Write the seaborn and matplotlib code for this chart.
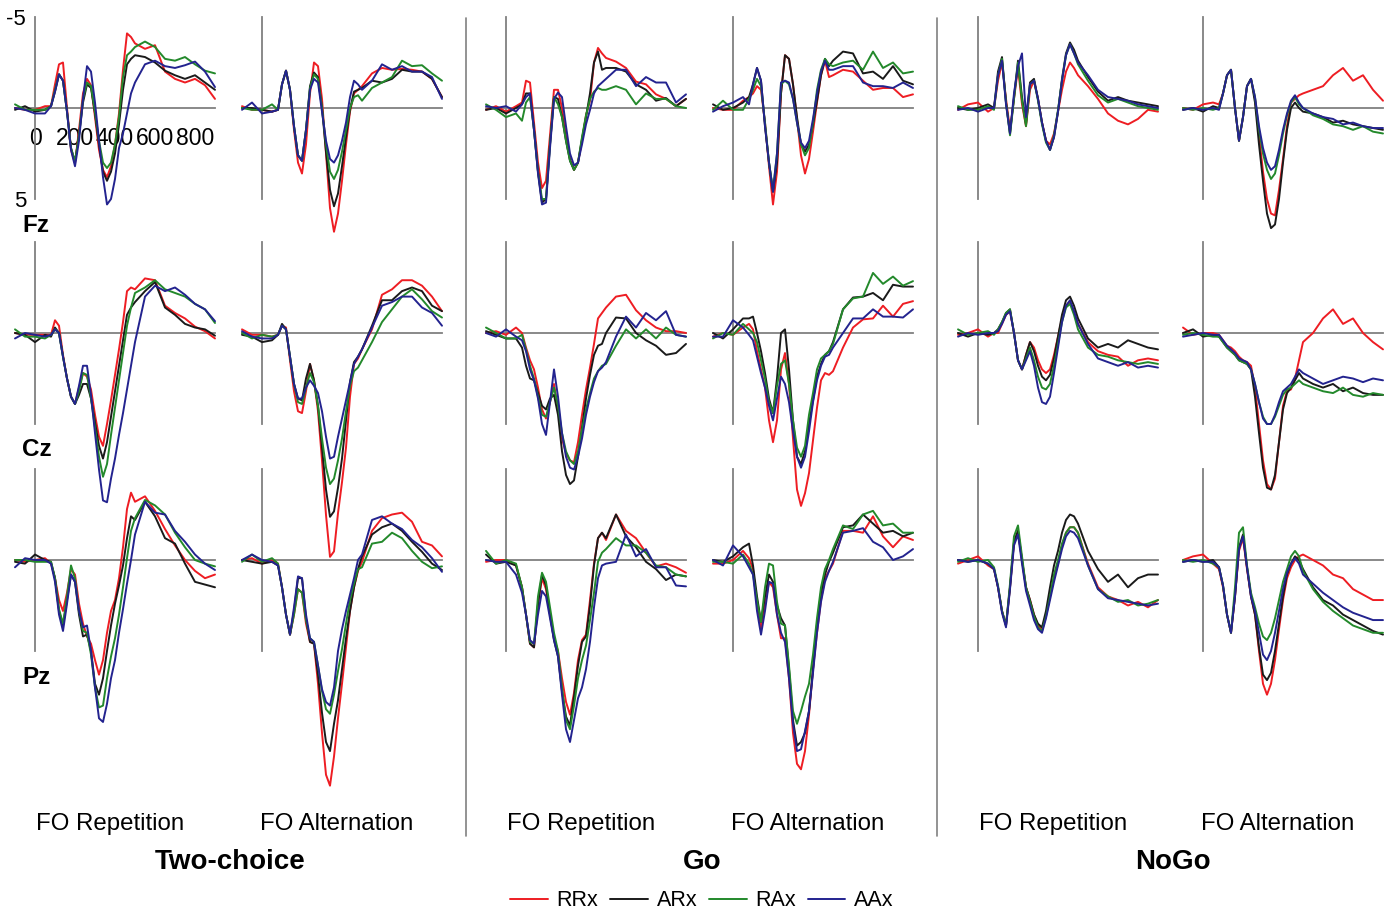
import matplotlib
matplotlib.use("Agg")
import matplotlib.pyplot as plt
from matplotlib.lines import Line2D
import numpy as np
import pandas as pd
import seaborn as sns

# ---------------- data (µV, negative plotted upward) ----------------
TIME = [-100, -50, 0, 50, 80, 100, 120, 140, 160, 180, 200, 220, 240, 260, 280, 300,
        320, 340, 360, 380, 400, 420, 440, 460, 480, 500, 550, 600, 650, 700, 750, 800, 850, 900]
CONDITIONS = ["RRx", "ARx", "RAx", "AAx"]
SITES = ["Fz", "Cz", "Pz"]
TASKS = ["Two-choice", "Go", "NoGo"]
SEQUENCES = ["FO Repetition", "FO Alternation"]

FZ_TWO_REP = {
    "RRx": [0.0,0.1,0.1,-0.1,-0.1,-1.3,-2.4,-2.5,0.0,2.3,3.05,1.2,-0.8,-1.6,-1.25,0.5,2.3,3.4,3.8,3.2,2.0,0.3,-2.1,-4.1,-3.9,-3.55,-3.25,-3.45,-2.0,-1.6,-1.4,-1.6,-1.25,-0.5],
    "ARx": [0.1,-0.1,0.2,0.1,-0.1,-0.9,-1.85,-1.5,0.2,2.2,2.95,1.5,-0.3,-1.3,-1.1,0.3,2.0,3.5,4.0,3.5,2.5,0.9,-1.0,-2.4,-2.7,-2.9,-2.8,-2.5,-2.05,-1.8,-1.6,-1.8,-1.4,-1.0],
    "RAx": [-0.2,0.1,0.1,0.1,-0.1,-1.0,-1.85,-1.5,0.2,2.2,2.95,1.5,-0.5,-1.4,-1.2,0.2,1.8,3.0,3.3,3.0,2.0,0.5,-1.7,-2.9,-3.1,-3.35,-3.65,-3.35,-2.7,-2.6,-2.8,-2.4,-2.05,-1.9],
    "AAx": [0.0,0.1,0.3,0.3,-0.1,-0.9,-1.85,-1.5,0.2,2.3,3.2,1.8,-0.5,-2.3,-2.0,-0.3,1.8,3.8,5.3,5.0,3.9,2.2,1.4,0.3,-0.8,-1.4,-2.4,-2.6,-2.3,-2.2,-2.35,-2.55,-2.0,-1.15],
}
FZ_TWO_ALT = {
    "RRx": [-0.1,0.1,0.1,0.2,0.1,-1.3,-2.05,-1.0,1.2,3.0,3.6,2.0,-0.8,-2.5,-2.3,-0.5,2.5,5.5,6.8,5.8,4.0,2.0,0.2,-0.8,-1.0,-1.2,-1.9,-2.2,-2.1,-2.15,-2.1,-2.0,-1.6,-0.6],
    "ARx": [0.0,0.0,0.1,0.2,0.1,-1.3,-2.05,-1.0,1.0,2.6,2.9,1.2,-1.2,-1.95,-1.7,0.0,2.4,4.5,5.4,4.7,3.2,1.6,0.1,-0.9,-1.0,-1.1,-1.5,-1.4,-1.6,-2.1,-2.0,-2.0,-1.6,-0.6],
    "RAx": [0.0,0.1,0.1,-0.2,0.1,-1.3,-2.05,-1.0,1.0,2.6,2.9,1.2,-1.1,-1.85,-1.6,0.0,2.0,3.5,3.9,3.4,2.4,1.2,0.0,-0.6,-0.7,-0.4,-1.1,-1.4,-1.7,-2.6,-2.3,-2.35,-1.9,-1.5],
    "AAx": [0.1,-0.3,0.3,0.2,0.1,-1.3,-2.05,-1.0,1.0,2.6,2.9,1.2,-1.0,-1.6,-1.4,0.2,1.8,2.8,3.0,2.6,1.8,0.8,-0.6,-1.5,-1.3,-1.0,-1.5,-2.4,-2.1,-2.3,-2.0,-2.0,-1.7,-0.5],
}
CZ_TWO_REP = {
    "RRx": [0.0,0.1,0.1,0.1,0.1,-0.7,-0.4,1.2,2.5,3.5,3.9,3.0,2.2,2.4,3.1,4.5,5.7,6.2,5.0,3.7,2.3,0.9,-0.6,-2.3,-2.5,-2.4,-3.0,-2.9,-1.5,-1.1,-0.8,-0.35,-0.1,0.3],
    "ARx": [0.0,0.1,0.5,0.1,0.2,-0.3,0.0,1.3,2.5,3.5,3.9,3.4,2.8,2.8,3.6,4.9,6.2,6.9,6.0,4.6,3.2,1.8,0.4,-1.0,-1.4,-1.7,-2.3,-2.8,-1.4,-1.0,-0.5,-0.3,-0.2,0.15],
    "RAx": [-0.2,0.2,0.2,0.3,0.1,-0.2,0.0,1.3,2.5,3.5,3.9,3.2,2.2,2.3,3.6,5.2,6.8,7.9,7.2,5.6,4.1,2.6,1.1,-0.4,-1.4,-2.2,-2.5,-2.9,-2.4,-2.2,-2.0,-1.6,-1.3,-0.55],
    "AAx": [0.3,0.0,0.1,0.2,0.1,-0.2,0.0,1.3,2.5,3.5,3.9,2.9,1.8,1.8,3.4,5.5,7.5,9.2,9.3,8.0,6.9,5.6,4.4,3.1,1.8,0.5,-2.0,-2.6,-2.3,-2.5,-2.1,-1.6,-1.3,-0.65],
}
CZ_TWO_ALT = {
    "RRx": [-0.2,0.1,0.1,0.2,0.1,-0.4,-0.3,1.5,3.2,4.3,4.4,3.2,1.7,2.6,4.3,7.0,10.0,12.3,12.0,9.9,8.2,6.3,3.5,1.7,1.4,0.9,-0.2,-2.1,-2.4,-2.9,-2.9,-2.6,-2.0,-1.2],
    "ARx": [0.1,0.2,0.5,0.4,0.1,-0.5,-0.2,1.3,2.8,3.6,3.7,2.5,1.7,2.6,4.0,6.3,8.6,10.1,9.8,8.5,6.9,4.8,2.7,1.6,1.3,0.9,-0.4,-1.8,-1.8,-2.3,-2.5,-2.3,-1.5,-1.2],
    "RAx": [0.0,0.3,0.1,0.2,0.1,-0.4,-0.2,1.3,2.8,3.8,3.9,3.0,2.2,2.7,4.0,5.8,7.4,8.3,8.0,7.0,5.8,4.3,2.9,2.1,1.9,1.5,0.5,-0.6,-1.3,-2.0,-2.4,-1.85,-1.2,-0.85],
    "AAx": [-0.1,0.2,0.3,0.3,0.1,-0.4,-0.2,1.3,2.8,3.6,3.6,3.0,2.6,2.9,3.3,4.3,5.7,6.9,6.8,5.7,4.7,3.7,2.7,1.7,1.3,0.9,-0.3,-1.5,-1.7,-2.0,-2.0,-1.4,-1.1,-0.4],
}
PZ_TWO_REP = {
    "RRx": [0.0,0.1,0.0,-0.1,0.2,1.0,2.2,2.8,1.8,0.5,0.8,2.4,3.5,4.2,4.6,5.5,6.3,5.5,4.0,2.8,2.2,1.0,-0.7,-2.8,-3.7,-3.2,-3.5,-2.7,-1.7,-0.8,0.0,0.6,1.0,0.8],
    "ARx": [0.1,0.2,-0.3,0.0,0.1,1.0,2.8,3.6,2.2,0.8,1.2,3.0,4.2,4.1,5.0,6.8,7.4,6.5,5.0,3.6,2.4,1.4,0.3,-1.2,-2.4,-2.2,-3.2,-2.4,-1.2,-0.9,0.2,1.2,1.35,1.5],
    "RAx": [0.0,0.0,0.1,0.1,0.1,1.0,2.7,3.5,2.0,0.3,1.0,2.8,3.9,4.0,5.2,7.0,8.1,8.0,6.5,5.3,4.3,3.0,1.5,-0.1,-1.6,-2.3,-3.3,-3.0,-2.5,-1.5,-0.7,0.0,0.2,0.35],
    "AAx": [0.4,-0.1,0.0,0.0,0.2,1.2,3.0,3.9,2.4,0.8,1.2,2.8,3.7,3.6,5.0,7.0,8.7,8.9,7.9,6.5,5.5,4.0,2.7,1.3,0.0,-1.4,-3.2,-2.6,-2.5,-1.6,-1.0,-0.3,0.2,0.55],
}
PZ_TWO_ALT = {
    "RRx": [0.0,-0.1,0.2,0.0,0.2,1.5,3.0,4.1,3.0,1.6,1.8,3.5,4.5,4.6,6.8,9.5,11.8,12.4,10.8,8.7,6.8,4.8,2.8,1.5,0.6,0.1,-1.6,-2.3,-2.5,-2.6,-2.1,-1.0,-0.8,-0.2],
    "ARx": [0.0,0.1,0.2,0.1,0.3,1.5,3.0,4.1,2.8,1.0,1.0,3.2,4.5,4.6,6.3,8.4,10.0,10.5,9.0,7.7,6.0,4.3,2.8,1.5,0.5,-0.2,-1.4,-1.8,-2.0,-1.6,-1.0,-0.45,0.2,0.55],
    "RAx": [0.1,-0.3,0.1,-0.1,0.2,1.5,3.0,4.1,3.0,1.6,1.8,3.3,4.3,4.5,5.8,7.2,8.2,8.45,7.4,6.1,4.9,3.5,2.2,1.3,0.5,0.4,-0.9,-1.0,-1.5,-1.2,-0.5,0.1,0.45,0.35],
    "AAx": [0.0,-0.3,0.0,0.1,0.3,1.5,3.0,4.1,2.6,0.9,1.0,3.0,4.3,4.5,5.8,7.1,7.8,8.0,7.0,5.0,3.8,2.8,1.9,1.0,0.0,-0.3,-2.2,-2.4,-2.0,-1.7,-1.1,-0.7,-0.1,0.65],
}
FZ_GO_REP = {
    "RRx": [0.1,-0.1,0.2,-0.1,-0.3,-1.5,-1.4,0.8,3.0,4.4,4.0,1.5,-1.0,-1.0,0.0,1.5,2.8,3.4,3.0,1.8,0.4,-0.4,-2.5,-3.3,-3.0,-2.75,-2.55,-2.2,-1.45,-1.3,-0.75,-0.5,-0.1,-0.5],
    "ARx": [0.1,0.0,0.3,0.0,-0.2,-0.8,-0.8,1.2,3.5,5.2,5.0,2.0,-0.6,-0.5,0.5,1.8,2.9,3.4,3.0,1.7,0.5,-0.8,-2.5,-3.1,-2.1,-2.2,-2.2,-2.0,-1.3,-1.0,-0.4,-0.55,-0.1,-0.5],
    "RAx": [-0.2,0.1,0.5,0.3,0.7,-0.3,-0.6,1.2,3.5,5.0,5.0,2.0,-0.6,-0.2,0.5,1.8,2.9,3.4,3.0,1.6,0.4,-0.5,-0.9,-1.1,-1.0,-1.0,-1.2,-1.0,-0.2,-0.8,-0.5,-0.5,-0.1,0.0],
    "AAx": [-0.1,0.0,-0.1,0.2,-0.2,-0.6,-0.8,1.2,3.6,5.3,5.2,2.2,-0.5,-0.85,-0.6,1.0,2.5,3.15,3.0,2.0,0.9,0.1,-0.8,-1.2,-1.4,-1.6,-2.1,-2.1,-1.2,-1.7,-1.4,-1.4,-0.3,-0.75],
}
FZ_GO_ALT = {
    "RRx": [0.0,0.1,0.1,-0.4,-0.6,-0.8,-1.2,-1.0,0.8,3.2,5.3,3.5,-0.8,-2.9,-2.7,-1.3,0.6,2.6,3.6,2.8,1.3,-0.3,-1.8,-2.6,-1.7,-1.8,-2.1,-2.0,-1.5,-1.0,-1.1,-1.1,-0.6,-0.75],
    "ARx": [-0.2,0.1,0.0,-0.3,-0.6,-1.3,-2.2,-1.5,1.0,3.0,4.6,3.0,-0.8,-2.9,-2.7,-1.3,0.5,2.0,2.4,2.0,0.9,-0.4,-1.8,-2.7,-2.3,-2.6,-3.1,-3.0,-1.9,-2.0,-1.6,-2.3,-1.5,-1.3],
    "RAx": [0.1,-0.4,0.1,0.1,-0.5,-1.0,-1.6,-1.2,0.8,3.0,4.5,2.5,-1.3,-1.5,-1.3,-0.5,0.8,2.0,2.6,2.2,0.8,-1.0,-2.1,-2.7,-2.4,-2.3,-2.5,-2.6,-2.1,-3.1,-2.2,-2.5,-1.9,-2.0],
    "AAx": [0.2,-0.1,-0.3,-0.6,-0.2,-1.3,-2.2,-1.5,1.0,3.0,4.6,2.5,-1.4,-1.5,-1.4,-0.5,0.8,1.9,2.2,1.8,0.6,-0.8,-2.0,-2.6,-2.1,-2.1,-2.3,-2.3,-1.4,-1.2,-1.2,-1.1,-1.4,-1.1],
}
CZ_GO_REP = {
    "RRx": [0.0,-0.1,0.1,-0.3,0.0,0.8,1.5,2.0,3.0,4.2,4.7,3.8,2.8,4.2,5.8,6.6,7.0,7.1,6.0,4.5,3.1,1.9,0.6,-0.8,-1.1,-1.4,-2.0,-2.1,-1.25,-0.7,-0.3,-0.1,-0.1,0.0],
    "ARx": [-0.1,0.1,0.3,0.3,0.8,1.8,2.5,2.6,3.3,4.0,4.2,3.6,3.4,4.5,6.5,7.8,8.3,8.1,6.8,5.2,3.6,2.3,1.2,0.7,0.6,0.0,-0.85,-0.8,0.0,0.4,0.7,1.2,1.1,0.6],
    "RAx": [-0.3,0.0,0.3,0.3,0.1,0.9,1.8,2.5,3.5,4.5,4.6,3.8,3.0,4.0,5.5,6.5,7.0,7.2,6.5,5.3,4.2,3.3,2.5,2.1,1.8,1.7,0.7,-0.2,0.3,-0.2,0.3,-0.3,0.1,0.2],
    "AAx": [0.0,0.2,-0.2,0.2,0.4,1.0,2.0,2.6,3.6,5.0,5.6,3.8,2.0,3.5,5.5,6.8,7.4,7.5,6.8,5.8,4.5,3.5,2.7,2.1,1.9,1.6,0.2,-0.9,-0.3,-1.1,-0.7,-1.2,0.1,0.2],
}
CZ_GO_ALT = {
    "RRx": [0.2,0.0,0.1,-0.3,-0.5,-0.2,1.0,2.0,3.0,4.8,6.0,4.8,2.0,1.1,2.8,5.8,8.6,9.5,8.8,7.7,5.9,4.1,2.6,2.2,2.3,2.1,0.8,-0.3,-0.75,-0.8,-1.5,-0.9,-1.6,-1.75],
    "ARx": [0.0,0.3,-0.2,-0.8,-0.8,-0.9,0.0,1.0,2.2,3.6,4.4,2.5,0.0,-0.2,2.0,4.8,6.8,7.2,6.5,5.0,3.7,2.4,1.7,1.2,1.0,0.5,-1.3,-1.95,-2.0,-2.2,-1.8,-2.65,-2.55,-2.55],
    "RAx": [0.3,0.0,0.1,-0.5,-0.2,0.0,0.5,1.5,2.5,3.8,4.4,2.9,1.7,1.5,2.8,4.8,6.3,6.8,6.2,4.5,3.3,2.0,1.4,1.2,1.0,0.6,-1.3,-1.9,-2.0,-3.3,-2.7,-3.1,-2.6,-2.85],
    "AAx": [0.2,0.2,-0.7,-0.3,0.1,0.4,1.3,2.2,3.0,4.0,4.8,3.6,2.4,2.8,3.8,5.4,6.8,7.4,6.8,5.4,3.8,2.6,1.8,1.3,1.2,0.8,0.0,-0.8,-0.8,-1.3,-0.9,-0.9,-0.85,-1.3],
}
PZ_GO_REP = {
    "RRx": [0.1,0.0,0.0,0.3,1.5,3.0,4.6,4.8,2.5,1.0,1.6,3.0,4.3,5.0,6.5,7.8,8.5,7.3,5.5,4.4,4.1,2.2,0.2,-1.2,-1.5,-1.1,-2.5,-1.6,-1.2,-0.4,0.35,0.2,0.4,0.7],
    "ARx": [-0.3,0.2,0.1,0.3,1.5,3.0,4.6,4.8,2.4,0.8,1.4,3.0,4.4,5.3,7.2,8.6,9.1,7.5,5.8,4.5,4.2,2.5,0.3,-1.2,-1.5,-1.2,-2.5,-1.3,-0.7,0.1,0.5,1.1,0.8,0.9],
    "RAx": [-0.5,0.2,0.0,0.2,1.5,3.0,4.5,4.6,2.0,0.7,1.2,2.6,4.0,5.0,7.0,8.8,9.3,8.0,6.5,5.5,4.7,3.3,1.8,0.1,-0.4,-0.6,-1.2,-0.8,-0.8,-0.4,0.3,0.4,0.8,0.9],
    "AAx": [0.0,0.1,0.1,0.8,1.8,3.0,4.4,4.6,3.0,1.7,2.0,3.2,4.4,5.3,7.4,9.3,10.0,8.8,7.6,7.0,6.0,4.5,2.6,1.0,0.3,0.2,0.1,-1.4,-0.2,-0.6,0.4,0.4,1.4,1.45],
}
PZ_GO_ALT = {
    "RRx": [0.2,0.2,0.0,-0.5,-0.1,0.5,2.5,3.8,2.5,1.2,1.5,3.0,4.3,4.3,6.5,9.5,11.2,11.5,10.5,8.5,6.0,4.0,2.2,1.0,0.6,0.2,-1.6,-1.6,-1.5,-2.4,-1.3,-0.7,-1.3,-1.1],
    "ARx": [0.0,0.1,-0.2,-0.7,-0.9,0.3,2.0,3.4,2.0,0.8,1.2,2.5,3.2,3.6,6.0,8.8,10.2,10.0,9.5,8.3,6.0,3.5,1.8,0.8,0.1,-0.4,-1.8,-1.9,-2.5,-2.0,-1.5,-1.6,-1.3,-1.5],
    "RAx": [0.1,0.1,0.2,-0.3,0.2,0.8,2.2,3.4,1.5,0.2,0.3,2.3,3.5,3.6,5.8,8.3,9.0,8.3,7.5,6.8,5.2,3.2,1.5,0.5,0.0,-0.6,-1.9,-1.7,-2.5,-2.7,-1.9,-2.0,-1.5,-1.5],
    "AAx": [0.0,0.3,-0.8,-0.2,0.4,0.8,2.8,4.1,2.8,1.2,1.3,3.0,4.0,4.5,6.5,9.0,10.5,10.4,9.4,8.3,6.2,4.0,2.3,1.2,0.6,0.1,-1.5,-1.6,-1.75,-1.0,-0.7,0.0,-0.2,-0.6],
}
FZ_NOGO_REP = {
    "RRx": [0.1,-0.2,-0.3,0.2,0.0,-1.5,-2.5,-0.5,1.2,-0.5,-2.2,-0.2,1.0,-1.0,-1.5,-0.5,0.8,1.8,2.0,1.4,0.2,-1.0,-2.0,-2.5,-2.2,-1.8,-1.2,-0.5,0.3,0.7,0.9,0.6,0.1,0.2],
    "ARx": [0.0,0.1,0.0,-0.2,0.0,-2.0,-2.8,-0.3,1.4,-0.6,-2.6,-0.6,0.9,-1.4,-1.6,-0.5,0.8,1.8,2.3,1.6,0.2,-1.6,-3.0,-3.6,-3.2,-2.6,-1.7,-0.9,-0.4,-0.6,-0.4,-0.3,-0.2,-0.1],
    "RAx": [-0.1,0.1,0.1,-0.1,0.1,-1.8,-2.7,-0.3,1.5,-0.5,-2.5,-0.4,1.0,-1.3,-1.5,-0.4,0.9,1.9,2.3,1.5,0.1,-1.5,-2.9,-3.5,-3.0,-2.4,-1.5,-0.7,-0.3,-0.5,-0.3,-0.1,0.0,0.1],
    "AAx": [0.1,0.0,0.2,0.0,0.0,-1.8,-2.6,-0.2,1.4,-0.8,-2.3,-3.0,0.5,-1.3,-1.5,-0.5,0.8,1.8,2.3,1.6,0.2,-1.5,-2.9,-3.5,-3.0,-2.5,-1.8,-1.0,-0.6,-0.5,-0.4,-0.2,-0.1,0.0],
}
FZ_NOGO_ALT = {
    "RRx": [0.0,0.1,-0.2,-0.3,-0.2,-0.8,-1.8,-2.1,0.0,1.8,0.5,-1.2,-1.6,-0.5,1.5,3.5,5.0,5.8,5.9,4.5,2.8,1.0,-0.3,-0.5,-0.7,-0.8,-1.0,-1.2,-1.8,-2.2,-1.5,-1.8,-1.0,-0.4],
    "ARx": [0.1,0.0,0.2,-0.1,0.0,-0.8,-1.8,-2.1,0.0,1.8,0.5,-1.2,-1.6,-0.3,2.0,4.0,5.8,6.6,6.4,5.0,3.0,1.2,0.0,-0.3,0.0,0.2,0.3,0.5,0.8,0.7,0.9,1.0,1.1,1.2],
    "RAx": [0.0,0.1,0.0,0.1,0.0,-0.8,-1.8,-2.1,0.0,1.8,0.5,-1.2,-1.6,-0.6,1.2,2.5,3.4,3.9,3.6,2.6,1.4,0.4,-0.3,-0.6,-0.2,0.0,0.4,0.6,0.9,1.0,1.2,1.0,1.3,1.4],
    "AAx": [0.1,0.0,0.1,0.0,0.1,-0.8,-1.8,-2.1,0.0,1.8,0.5,-1.2,-1.6,-0.6,1.0,2.2,3.0,3.4,3.2,2.3,1.2,0.3,-0.4,-0.7,-0.3,0.0,0.3,0.5,0.6,0.9,0.8,1.0,1.1,1.1],
}
CZ_NOGO_REP = {
    "RRx": [0.1,0.0,-0.2,0.2,0.0,0.0,-0.5,-1.0,-1.2,0.0,1.5,2.0,1.2,0.5,0.8,1.5,2.0,2.2,2.0,1.2,0.2,-0.8,-1.5,-1.7,-1.2,-0.5,0.5,1.0,1.2,1.3,1.8,1.5,1.4,1.5],
    "ARx": [0.0,0.2,0.0,0.1,0.0,-0.2,-0.6,-1.1,-1.3,0.0,1.5,2.0,1.2,0.5,1.0,1.8,2.4,2.6,2.3,1.4,0.2,-1.0,-1.8,-2.0,-1.5,-0.8,0.3,0.8,0.6,0.8,0.4,0.6,0.8,0.9],
    "RAx": [-0.2,0.1,0.0,-0.1,0.1,-0.2,-0.6,-1.1,-1.3,0.0,1.5,2.0,1.4,0.8,1.5,2.4,3.0,3.1,2.8,1.8,0.6,-0.6,-1.4,-1.6,-1.0,-0.2,0.8,1.2,1.3,1.5,1.6,1.7,1.6,1.7],
    "AAx": [0.2,0.0,0.1,0.0,0.0,-0.1,-0.5,-1.0,-1.2,0.0,1.5,2.0,1.5,1.0,1.8,3.0,3.8,3.9,3.5,2.2,0.8,-0.6,-1.5,-1.8,-1.2,-0.5,0.6,1.4,1.6,1.8,1.6,1.9,1.8,1.9],
}
CZ_NOGO_ALT = {
    "RRx": [-0.3,0.1,0.0,0.0,0.1,0.4,0.7,0.8,1.0,1.3,1.5,1.6,1.8,3.0,5.0,7.0,8.3,8.6,8.0,6.0,4.0,3.2,3.1,2.5,1.5,0.5,0.0,-0.8,-1.3,-0.5,-0.8,0.0,0.5,0.9],
    "ARx": [0.0,-0.2,0.2,0.1,0.2,0.5,0.8,1.0,1.2,1.5,1.6,1.7,2.0,3.5,5.5,7.4,8.5,8.6,7.8,6.0,4.2,3.3,3.0,2.6,2.2,2.5,2.8,3.0,2.8,3.2,3.0,3.3,3.4,3.4],
    "RAx": [0.1,0.0,0.1,0.2,0.2,0.5,0.8,1.0,1.2,1.5,1.6,1.7,2.0,2.8,3.8,4.6,5.0,5.0,4.6,4.0,3.4,3.1,3.0,2.8,2.6,2.8,3.0,3.2,3.3,3.0,3.4,3.5,3.3,3.4],
    "AAx": [0.2,0.1,0.0,0.1,0.1,0.4,0.7,0.9,1.1,1.4,1.5,1.6,2.0,2.8,3.8,4.7,5.0,5.0,4.5,3.8,3.2,3.0,2.8,2.4,2.0,2.2,2.5,2.8,2.6,2.4,2.5,2.7,2.5,2.6],
}
PZ_NOGO_REP = {
    "RRx": [0.2,0.0,-0.2,0.3,0.5,1.5,2.8,3.6,1.5,-1.0,-1.6,0.0,1.5,2.2,3.0,3.6,3.8,3.0,2.0,1.0,0.2,-0.8,-1.5,-1.8,-1.8,-1.5,0.2,1.5,2.0,2.2,2.5,2.3,2.6,2.2],
    "ARx": [0.0,0.1,0.0,0.2,0.5,1.5,2.8,3.6,1.5,-1.0,-1.6,0.0,1.5,2.2,3.0,3.5,3.7,2.8,1.5,0.3,-0.5,-1.5,-2.2,-2.5,-2.4,-2.0,-0.5,0.5,1.2,0.8,1.5,1.0,0.8,0.8],
    "RAx": [0.1,-0.1,0.1,0.0,0.4,1.4,2.8,3.6,1.3,-1.3,-1.9,-0.2,1.5,2.3,3.1,3.7,3.9,3.1,2.0,0.8,0.0,-0.9,-1.5,-1.8,-1.8,-1.5,0.3,1.6,2.0,2.3,2.2,2.5,2.4,2.2],
    "AAx": [0.0,0.1,0.0,0.2,0.5,1.5,2.9,3.7,1.6,-0.8,-1.4,0.2,1.7,2.5,3.3,3.8,4.0,3.2,2.2,1.2,0.3,-0.6,-1.3,-1.6,-1.5,-1.2,0.3,1.6,2.1,2.2,2.3,2.4,2.5,2.4],
}
PZ_NOGO_ALT = {
    "RRx": [0.0,-0.2,-0.3,0.2,0.5,1.5,3.0,4.0,2.0,-0.5,-1.2,0.5,2.0,3.0,5.0,6.8,7.4,6.8,5.5,3.8,2.2,1.0,0.4,0.0,-0.2,-0.3,0.0,0.3,0.8,1.0,1.6,1.9,2.2,2.2],
    "ARx": [0.1,0.0,0.1,0.0,0.4,1.4,3.0,4.0,2.0,-0.7,-1.4,0.4,2.0,3.0,4.8,6.3,6.6,6.2,5.0,3.5,2.0,0.8,0.2,-0.2,0.0,0.5,1.5,2.2,2.5,3.0,3.3,3.6,3.9,4.1],
    "RAx": [0.0,0.1,0.0,0.2,0.4,1.4,3.0,4.0,1.5,-1.5,-1.8,0.3,1.8,2.6,3.5,4.2,4.4,4.0,3.2,2.2,1.2,0.5,-0.2,-0.5,-0.2,0.6,1.6,2.3,2.8,3.2,3.6,3.8,4.0,4.0],
    "AAx": [0.1,0.0,0.1,0.1,0.4,1.4,3.0,4.0,2.0,-0.6,-1.3,0.4,2.0,2.8,4.0,5.2,5.5,5.0,4.0,2.8,1.6,0.7,0.2,-0.1,0.2,0.8,1.3,1.8,2.2,2.6,2.9,3.1,3.3,3.3],
}

PANELS = {
    ("Fz", 0): FZ_TWO_REP, ("Fz", 1): FZ_TWO_ALT, ("Fz", 2): FZ_GO_REP,
    ("Fz", 3): FZ_GO_ALT, ("Fz", 4): FZ_NOGO_REP, ("Fz", 5): FZ_NOGO_ALT,
    ("Cz", 0): CZ_TWO_REP, ("Cz", 1): CZ_TWO_ALT, ("Cz", 2): CZ_GO_REP,
    ("Cz", 3): CZ_GO_ALT, ("Cz", 4): CZ_NOGO_REP, ("Cz", 5): CZ_NOGO_ALT,
    ("Pz", 0): PZ_TWO_REP, ("Pz", 1): PZ_TWO_ALT, ("Pz", 2): PZ_GO_REP,
    ("Pz", 3): PZ_GO_ALT, ("Pz", 4): PZ_NOGO_REP, ("Pz", 5): PZ_NOGO_ALT,
}

PALETTE = {"RRx": "#ee1d23", "ARx": "#1a1a1a", "RAx": "#23892b", "AAx": "#23238f"}

# ---------------- layout (pixels) ----------------
W, H = 1393, 910
AXIS_X = [35, 262, 506, 733, 978, 1203]   # pixel x of t = 0 per column
ZERO_Y = [108, 333, 560]                  # pixel y of 0 µV per row
PANEL_W = 200                             # -100 .. 900 ms
PANEL_H = 182                             # -5 .. 5 µV
GRAY = "#808080"

sns.set_style("white")
plt.rcParams["font.family"] = ["Liberation Sans", "DejaVu Sans"]
plt.rcParams["axes.unicode_minus"] = False
plt.rcParams["text.color"] = "black"
plt.rcParams["xtick.labelcolor"] = "black"
plt.rcParams["ytick.labelcolor"] = "black"

fig = plt.figure(figsize=(W / 100, H / 100), dpi=100)

for r, site in enumerate(SITES):
    for c in range(6):
        d = PANELS[(site, c)]
        df = pd.DataFrame([
            {"time": t, "uv": v, "cond": cond}
            for cond in CONDITIONS
            for t, v in zip(TIME, d[cond])
        ])
        left = AXIS_X[c] - 20
        top = ZERO_Y[r] - PANEL_H / 2
        ax = fig.add_axes([left / W, 1 - (top + PANEL_H) / H, PANEL_W / W, PANEL_H / H])
        ax.set_facecolor("none")
        sns.lineplot(data=df, x="time", y="uv", hue="cond", hue_order=CONDITIONS,
                     palette=PALETTE, estimator=None, errorbar=None, legend=False,
                     linewidth=1.4, ax=ax, clip_on=False, zorder=3)
        ax.set_xlim(-100, 900)
        ax.set_ylim(5, -5)
        for s in ("top", "right"):
            ax.spines[s].set_visible(False)
        ax.spines["left"].set_position(("data", 0))
        ax.spines["bottom"].set_position(("data", 0))
        for s in ("left", "bottom"):
            ax.spines[s].set_color(GRAY)
            ax.spines[s].set_linewidth(1.3)
            ax.spines[s].set_zorder(1)
        ax.set_xlabel("")
        ax.set_ylabel("")
        ax.set_yticks([-5, 5])
        ax.tick_params(axis="y", direction="inout", length=9, width=1.3, color=GRAY,
                       labelsize=16, pad=2, labelcolor="black")
        if r == 0 and c == 0:
            ax.set_xticks([0, 200, 400, 600, 800])
            ax.set_yticklabels(["-5", "5"])
        else:
            ax.set_xticks([200, 400, 600, 800])
            ax.set_xticklabels([])
            ax.set_yticklabels([])
        ax.tick_params(axis="x", direction="out", length=7, width=1.3, color=GRAY,
                       labelsize=16.5, pad=7, labelcolor="black")

# row labels
for r, site in enumerate(SITES):
    fig.text(22 / W, 1 - (ZERO_Y[r] + 117) / H, site, fontsize=17.5, fontweight="bold",
             ha="left", va="center", color="black")

# column labels
for c in range(6):
    fig.text((AXIS_X[c] + 75) / W, 1 - 824 / H, SEQUENCES[c % 2], fontsize=17.3,
             ha="center", va="center", color="black")

# task labels
for x, task in zip([230, 702, 1173], TASKS):
    fig.text(x / W, 1 - 862 / H, task, fontsize=20, fontweight="bold",
             ha="center", va="center", color="black")

# separators
for x in (466, 937):
    fig.add_artist(Line2D([x / W, x / W], [1 - 836 / H, 1 - 18 / H],
                          transform=fig.transFigure, color=GRAY, lw=1.2))

handles = [Line2D([], [], color=PALETTE[k], lw=1.4) for k in CONDITIONS]
fig.legend(handles, CONDITIONS, loc="center", bbox_to_anchor=(702 / W, 1 - 901 / H),
           ncol=4, frameon=False, fontsize=15.5, handlelength=1.75, handletextpad=0.4,
           columnspacing=0.55, borderpad=0.1)

fig.savefig("out.png", dpi=100)
